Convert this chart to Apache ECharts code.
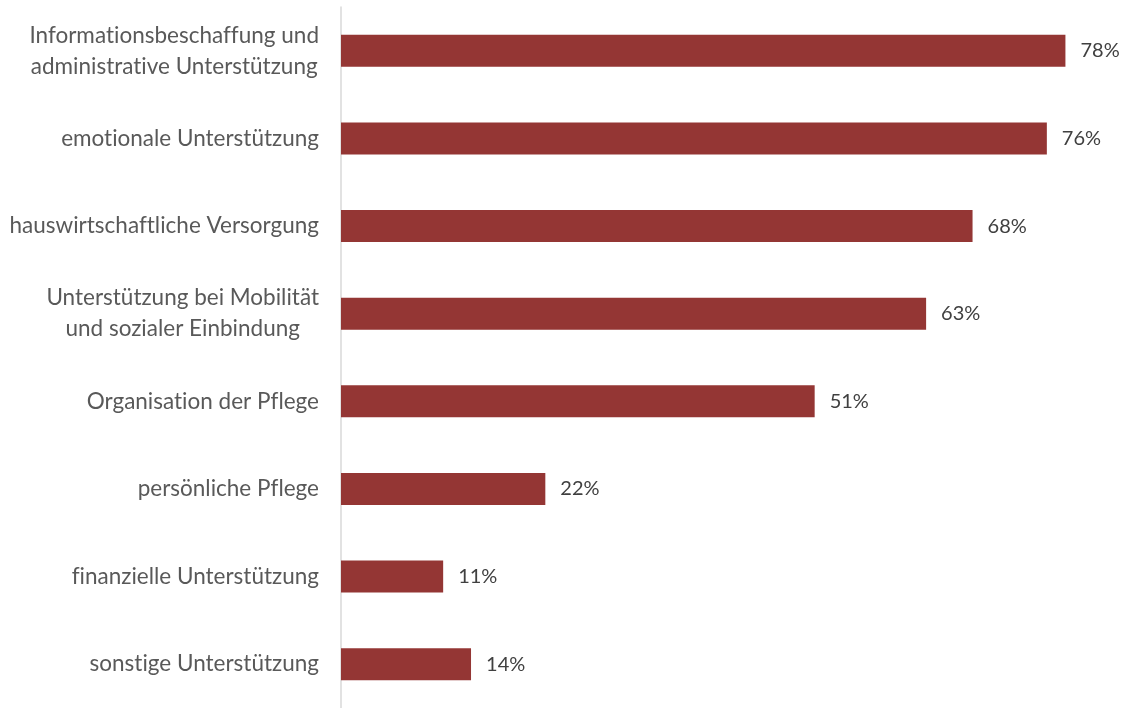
<!DOCTYPE html>
<html>
<head>
<meta charset="utf-8">
<script src="https://cdn.jsdelivr.net/npm/echarts@6/dist/echarts.min.js"></script>
<style>
  html, body { margin: 0; padding: 0; background: #ffffff; }
  #chart { width: 1127px; height: 708px; }
</style>
</head>
<body>
<div id="chart"></div>
<script>
// Forms of support, top to bottom
const categories = [
  'Informationsbeschaffung und\nadministrative Unterstützung',
  'emotionale Unterstützung',
  'hauswirtschaftliche Versorgung',
  'Unterstützung bei Mobilität\nund sozialer Einbindung',
  'Organisation der Pflege',
  'persönliche Pflege',
  'finanzielle Unterstützung',
  'sonstige Unterstützung'
];
// Share of respondents, in percent
const shares = [78, 76, 68, 63, 51, 22, 11, 14];

const FONT = 'Lato, "Open Sans", sans-serif';

// keep letter pairs such as "ti" / "fl" unjoined (zero-width non-joiner)
function noLigatures(s) {
  return s.replace(/(t)(i)|(f)([filt])/g, function (m) { return m[0] + '\u200C' + m[1]; });
}

const chart = echarts.init(document.getElementById('chart'), null, { renderer: 'canvas' });
chart.setOption({
  animation: false,
  backgroundColor: '#ffffff',
  grid: { left: 341, right: 43, top: 7, bottom: -6, containLabel: false },
  xAxis: {
    type: 'value',
    min: 0,
    max: 80,
    show: false
  },
  yAxis: {
    type: 'category',
    inverse: true,
    data: categories,
    axisLine: { show: true, lineStyle: { color: '#d9d9d9', width: 1.5 } },
    axisTick: { show: false },
    splitLine: { show: false },
    axisLabel: {
      margin: 22,
      align: 'right',
      color: '#595959',
      fontFamily: FONT,
      fontSize: 22.5,
      lineHeight: 31,
      // each line of a wrapped label is centred within the label block
      formatter: function (v) {
        return v.split('\n').map(function (s) { return '{c|' + noLigatures(s) + '}'; }).join('\n');
      },
      rich: {
        c: {
          align: 'center',
          color: '#595959',
          fontFamily: FONT,
          fontSize: 22.5,
          lineHeight: 31
        }
      }
    }
  },
  series: [{
    type: 'bar',
    data: shares,
    barWidth: 32,
    itemStyle: { color: '#943634' },
    label: {
      show: true,
      position: 'right',
      distance: 15,
      color: '#404040',
      fontFamily: FONT,
      fontSize: 20,
      formatter: function (p) { return p.value + '%'; }
    }
  }]
});
</script>
</body>
</html>
